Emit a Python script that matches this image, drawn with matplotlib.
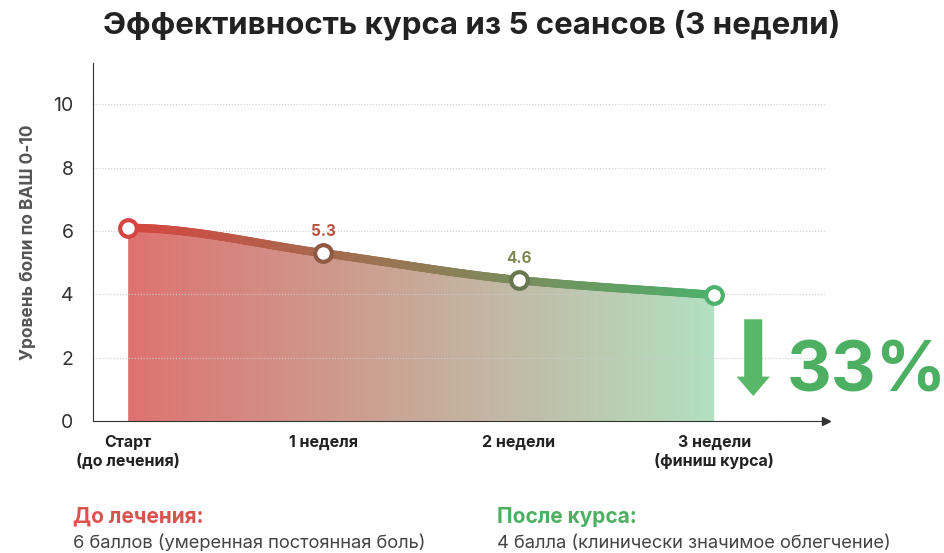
import numpy as np
import matplotlib
matplotlib.use("Agg")
import matplotlib.pyplot as plt
from matplotlib.collections import LineCollection
from matplotlib.colors import LinearSegmentedColormap
from matplotlib.patches import Polygon

plt.rcParams['font.family'] = ['Inter', 'DejaVu Sans']

categories = ["Старт\n(до лечения)", "1 неделя", "2 недели", "3 недели\n(финиш курса)"]
values = [6.1, 5.3, 4.45, 3.98]
point_labels = ["", "5.3", "4.6", ""]
label_colors = ["#b5533f", "#b5533f", "#7d8a55", "#5a9a60"]
yticks = [0, 2, 4, 6, 8, 10]

red = np.array([0.84, 0.27, 0.25])
green = np.array([0.30, 0.69, 0.42])
fill_l = np.array([0.87, 0.45, 0.44])
fill_r = np.array([0.70, 0.88, 0.76])

fig = plt.figure(figsize=(9.44, 5.53), dpi=100)
ax = fig.add_axes([0.0985, 0.2387, 0.776, 0.647])
x = np.arange(len(values))
ax.set_xlim(-0.18, 3.57)
ax.set_ylim(0, 11.3)

def pchip(xs, ys, xn):
    xs = np.asarray(xs, float); ys = np.asarray(ys, float)
    h = np.diff(xs); d = np.diff(ys) / h
    m = np.zeros_like(ys)
    m[0] = 0; m[-1] = d[-1]
    for i in range(1, len(ys) - 1):
        m[i] = 0 if d[i-1]*d[i] <= 0 else 2/(1/d[i-1] + 1/d[i])
    out = np.empty_like(xn)
    for k, xv in enumerate(xn):
        i = min(np.searchsorted(xs, xv, side='right') - 1, len(xs) - 2)
        t = (xv - xs[i]) / h[i]
        h00 = 2*t**3 - 3*t**2 + 1; h10 = t**3 - 2*t**2 + t
        h01 = -2*t**3 + 3*t**2; h11 = t**3 - t**2
        out[k] = h00*ys[i] + h10*h[i]*m[i] + h01*ys[i+1] + h11*h[i]*m[i+1]
    return out

xs = np.linspace(x[0], x[-1], 300)
ys = pchip(x, values, xs)

cmap_fill = LinearSegmentedColormap.from_list("f", [fill_l, fill_r])
grad = np.linspace(0, 1, 256).reshape(1, -1)
im = ax.imshow(grad, cmap=cmap_fill, aspect='auto', extent=[x[0], x[-1], 0, 11.3], origin='lower', zorder=1)
poly = Polygon(np.column_stack([np.r_[xs, xs[-1], xs[0]], np.r_[ys, 0, 0]]), closed=True, transform=ax.transData, facecolor='none', edgecolor='none')
ax.add_patch(poly)
im.set_clip_path(poly)

pts = np.column_stack([xs, ys]).reshape(-1, 1, 2)
segs = np.concatenate([pts[:-1], pts[1:]], axis=1)
tt = np.linspace(0, 1, len(segs))
cols = [tuple(red*(1-t) + green*t) for t in tt]
ax.add_collection(LineCollection(segs, colors=cols, linewidth=6, capstyle='round', zorder=3))

for i, v in enumerate(values):
    t = i / (len(values) - 1)
    c = red*(1-t) + green*t
    ax.plot(x[i], v, 'o', ms=12, mfc='white', mec=tuple(c*0.85 if 0 < i < 3 else c), mew=3, zorder=4)
    if point_labels[i]:
        ax.text(x[i], v + 0.45, point_labels[i], ha='center', va='bottom', fontsize=11, fontweight='bold', color=label_colors[i])

ax.set_yticks(yticks)
ax.set_yticklabels([str(v) for v in yticks], fontsize=14, color='#333333')
ax.set_xticks(x)
ax.set_xticklabels(categories, fontsize=11.5, fontweight='bold', color='#222222')
ax.tick_params(axis='y', length=0, pad=14)
ax.tick_params(axis='x', length=0, pad=10)
ax.grid(axis='y', color='#cccccc', linestyle=':', linewidth=0.8, zorder=0)
for s in ['top', 'right']:
    ax.spines[s].set_visible(False)
ax.spines['left'].set_color('#333333')
ax.spines['bottom'].set_color('#333333')
ax.plot(1, 0, '>', color='#333333', ms=6, transform=ax.transAxes, clip_on=False)
ax.set_ylabel("Уровень боли по ВАШ 0-10", fontsize=12.5, fontweight='bold', color='#555555', labelpad=12)

fig.text(0.5, 0.955, "Эффективность курса из 5 сеансов (3 недели)", ha='center', va='center', fontsize=22.5, fontweight='bold', color='#222222')

ax.annotate("", xy=(3.2, 0.7), xytext=(3.2, 3.3), xycoords='data',
            arrowprops=dict(arrowstyle='simple,head_width=2.4,head_length=1.4,tail_width=1.3', color='#58b768', lw=0), annotation_clip=False)
fig.text(0.833, 0.325, "33%", fontsize=50, fontweight='bold', color='#4caf62', ha='left', va='center')

fig.text(0.077, 0.066, "До лечения:", fontsize=15, fontweight='bold', color='#d9534f', ha='left', va='center')
fig.text(0.077, 0.018, "6 баллов (умеренная постоянная боль)", fontsize=13.2, color='#444444', ha='left', va='center')
fig.text(0.527, 0.066, "После курса:", fontsize=15, fontweight='bold', color='#4caf62', ha='left', va='center')
fig.text(0.527, 0.018, "4 балла (клинически значимое облегчение)", fontsize=13.2, color='#444444', ha='left', va='center')

fig.savefig("out.png", dpi=100)
